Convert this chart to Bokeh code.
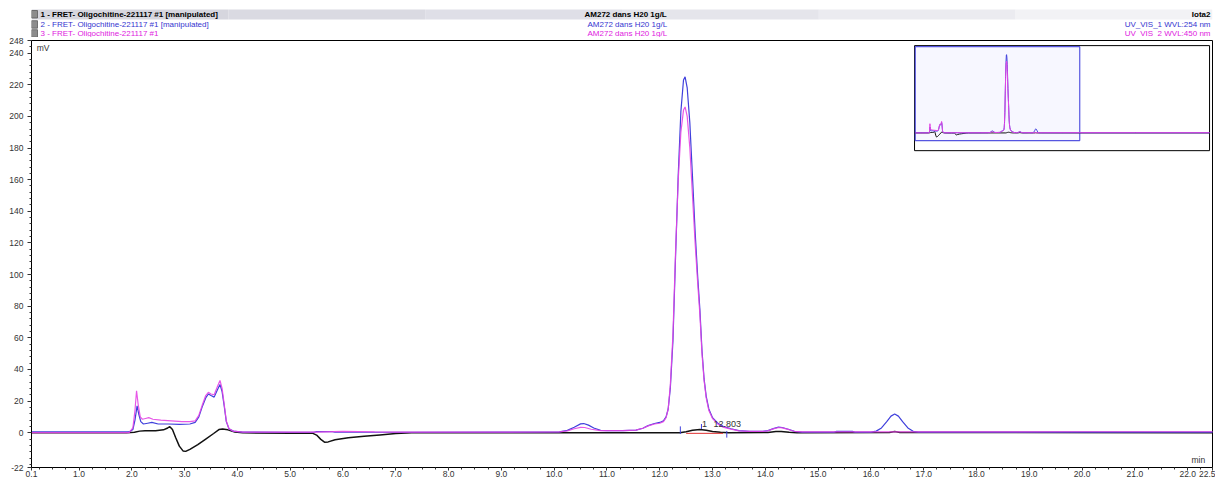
from bokeh.plotting import figure
from bokeh.models import Range1d, FixedTicker, PrintfTickFormatter, Label
from bokeh.layouts import column
from bokeh.embed import file_html
from bokeh.resources import INLINE

# ---------------- header texts ----------------
run_names = ["1 - FRET- Oligochitine-221117 #1 [manipulated]",
             "2 - FRET- Oligochitine-221117 #1 [manipulated]",
             "3 - FRET- Oligochitine-221117 #1"]
sample_names = ["AM272  dans H20 1g/L", "AM272 dans H20 1g/L", "AM272 dans H20 1g/L"]
channel_names = ["Iota2", "UV_VIS_1 WVL:254 nm", "UV_VIS_2 WVL:450 nm"]

# ---------------- axes ----------------
x_start, x_end = 0.1, 22.47
x_ticks = [0.1] + [float(i) for i in range(1, 23)] + [22.47]
x_minor = [i * 0.25 for i in range(1, 90)]
y_ticks = [-22, 0, 20, 40, 60, 80, 100, 120, 140, 160, 180, 200, 220, 240, 248]
y_minor = [v for v in range(-20, 248, 4)]

# ---------------- trace 2 (blue, UV_VIS_1) ----------------
t_blue = [0.1, 1.0, 1.95, 2.02, 2.06, 2.1, 2.13, 2.17, 2.22, 2.3,
          2.38, 2.5, 2.7, 2.9, 3.1, 3.2, 3.27, 3.33, 3.4, 3.45,
          3.5, 3.56, 3.62, 3.67, 3.71, 3.75, 3.79, 3.84, 3.92, 4.1,
          5.0, 5.45, 5.5, 5.8, 5.85, 7.0, 9.0, 10.1, 10.25, 10.38,
          10.5, 10.56, 10.65, 10.75, 10.88, 11.0, 11.3, 11.55, 11.68, 11.78,
          11.9, 12.0, 12.07, 12.12, 12.16, 12.2, 12.25, 12.3, 12.35, 12.4,
          12.45, 12.48, 12.52, 12.57, 12.62, 12.67, 12.72, 12.76, 12.8, 12.84,
          12.88, 12.93, 13.0, 13.1, 13.2, 13.35, 13.5, 13.7, 13.95, 14.05,
          14.15, 14.25, 14.32, 14.45, 14.55, 14.7, 15.3, 15.35, 15.65, 15.7,
          16.0, 16.1, 16.2, 16.3, 16.38, 16.45, 16.52, 16.6, 16.7, 16.8,
          16.9, 20.0, 30.0, 40.0]
v_blue = [0.5, 0.5, 0.5, 2, 8, 17, 12, 7, 5.5, 6,
          6.5, 5.5, 5.5, 5.3, 5.5, 6.5, 10, 16, 22, 24.5,
          23.5, 22.5, 27, 30.5, 26, 17, 7, 2.5, 1, 0.4,
          0.3, 0.3, 0.7, 0.7, 0.3, 0.3, 0.4, 0.5, 1.5, 3.5,
          5.6, 5.8, 4.8, 3, 1.5, 1.3, 1.3, 1.6, 2.8, 4.5,
          5.8, 6.5, 7.5, 10, 15, 28, 58, 112, 163, 203,
          223, 225, 218, 196, 162, 127, 98, 78, 52, 34,
          23, 15, 9.5, 6, 4, 2.5, 1.3, 0.8, 0.8, 1.3,
          2.6, 3.5, 3.3, 2, 0.9, 0.4, 0.4, 0.8, 0.8, 0.4,
          0.4, 1, 3, 7, 10.5, 11.8, 10.5, 7, 3, 0.9,
          0.4, 0.4, 0.4, 0.4]

# ---------------- trace 3 (magenta, UV_VIS_2) ----------------
t_mag = [0.1, 1.0, 1.95, 2.02, 2.06, 2.09, 2.12, 2.16, 2.2, 2.26,
         2.32, 2.4, 2.55, 2.75, 2.95, 3.1, 3.2, 3.27, 3.33, 3.4,
         3.45, 3.5, 3.56, 3.62, 3.67, 3.71, 3.75, 3.79, 3.84, 3.92,
         4.1, 5.5, 6.0, 6.6, 7.0, 9.0, 10.1, 10.25, 10.38, 10.5,
         10.58, 10.7, 10.88, 11.3, 11.55, 11.68, 11.78, 11.9, 12.0, 12.07,
         12.12, 12.16, 12.2, 12.25, 12.3, 12.35, 12.4, 12.45, 12.48, 12.52,
         12.57, 12.62, 12.67, 12.72, 12.76, 12.8, 12.84, 12.88, 12.93, 13.0,
         13.1, 13.2, 13.35, 13.5, 13.7, 13.95, 14.05, 14.15, 14.25, 14.32,
         14.45, 14.55, 14.7, 17.0, 20.0, 22.4, 30.0, 40.0]
v_mag = [0.1, 0.1, 0.1, 3, 14, 26.5, 18, 10, 8.5, 9,
         9.5, 8.5, 8, 7.5, 7, 7, 7.5, 11, 17, 23.5,
         25.5, 24.5, 24, 29, 33, 28, 18, 7.5, 2.5, 1,
         0.4, 0.4, 0.8, 0.5, 0.4, 0.4, 0.5, 1.2, 2.5, 3.4,
         3.3, 2.2, 1.3, 1.3, 1.6, 2.8, 4.3, 5.5, 6, 7,
         9.5, 15, 30, 62, 115, 160, 190, 204, 206, 200,
         180, 150, 120, 94, 75, 50, 33, 22, 14, 9,
         5.5, 3.5, 2.3, 1.2, 0.8, 0.8, 1.2, 2.4, 3.3, 3.1,
         1.9, 0.9, 0.5, 0.5, 0.6, 0.6, 0.6, 0.6]

# ---------------- trace 1 (black, manipulated) ----------------
t_black = [0.1, 1.9, 2.05, 2.15, 2.25, 2.45, 2.6, 2.68, 2.72, 2.77,
           2.83, 2.9, 2.97, 3.02, 3.1, 3.25, 3.4, 3.55, 3.65, 3.72,
           3.82, 3.95, 4.1, 5.0, 5.42, 5.5, 5.58, 5.65, 5.72, 5.85,
           6.1, 6.4, 6.7, 7.0, 7.3, 10.0, 12.38, 12.5, 12.62, 12.76,
           12.88, 13.0, 13.15, 13.3, 14.05, 14.2, 14.3, 14.45, 14.6, 16.35,
           16.45, 16.55, 22.4, 40.0]
v_black = [0, 0, 0.3, 1, 1.3, 1.2, 1.8, 3, 3.8, 2,
           -3, -8.5, -11.5, -11.8, -10.5, -7.5, -4, -0.5, 2, 2.3,
           1.8, 0.5, -0.1, -0.3, -0.3, -1.5, -4.2, -6, -5.8, -4.5,
           -3.2, -2.3, -1.4, -0.5, -0.1, 0, 0, 0.6, 1.5, 2,
           1.5, 0.8, 0.3, 0, 0.1, 0.7, 0.8, 0.3, 0, 0.1,
           0.8, 0.1, 0, 0]

# integration of peak 1 (black trace)
peak_number = "1"
peak_rt = 12.803
baseline_t = [12.5, 13.2]
baseline_v = [-0.4, -0.4]
marker_t = [12.39, 12.79, 13.27]
marker_lo = [-0.8, 2.4, -3.1]
marker_hi = [4.0, 5.5, 1.1]

BLUE = "#4040dc"
MAGENTA = "#e445e4"
BLACK = "#111111"
FONT = "Liberation Sans"

W = 1215
HEAD_H = 37
MAIN_H = 442
FRAME_L = 31
FRAME_R = 1212

# ================= header =================
head = figure(width=W, height=HEAD_H, x_range=Range1d(FRAME_L, FRAME_R), y_range=Range1d(HEAD_H, 0),
              output_backend="svg", toolbar_location=None,
              x_axis_type=None, y_axis_type=None, min_border=0,
              min_border_left=FRAME_L, min_border_right=W - FRAME_R)
head.outline_line_color = None
band_cols = ["#d6d6de", "#dadae2", "#dfdfe7", "#e5e5eb", "#ebebf0", "#f2f2f5"]
seg = (FRAME_R - FRAME_L) / len(band_cols)
for i, c in enumerate(band_cols):
    head.quad(left=[FRAME_L + i * seg], right=[FRAME_L + (i + 1) * seg], top=[9], bottom=[19],
              fill_color=c, line_color=None)

line_y = [14.0, 24.2, 33.2]
head_colors = ["#000000", "#3535d0", "#e020e0"]
for i in range(3):
    y = line_y[i]
    head.quad(left=[31], right=[37], top=[y - 4], bottom=[y + 3.5],
              fill_color="#8c8c8c", line_color="#5a5a5a", line_width=0.8)
    style = "bold" if i == 0 else "normal"
    head.add_layout(Label(x=40, y=y, text=run_names[i], text_font=FONT, text_font_size="8px",
                          text_font_style=style, text_color=head_colors[i],
                          text_baseline="middle", text_align="left"))
    head.add_layout(Label(x=584 if i == 0 else 587, y=y, text=sample_names[i], text_font=FONT,
                          text_font_size="8px", text_font_style=style,
                          text_color=head_colors[i], text_baseline="middle", text_align="left"))
    head.add_layout(Label(x=1210, y=y, text=channel_names[i], text_font=FONT,
                          text_font_size="8px", text_font_style=style,
                          text_color=head_colors[i], text_baseline="middle", text_align="right"))

# ================= main chromatogram =================
p = figure(width=W, height=MAIN_H, x_range=Range1d(x_start, x_end), y_range=Range1d(-22, 248),
           output_backend="svg", toolbar_location=None,
           min_border_left=FRAME_L, min_border_right=W - FRAME_R, min_border_top=3,
           min_border_bottom=8)
p.grid.visible = False
p.outline_line_color = "black"
p.outline_line_width = 1
p.background_fill_color = "white"

for ax in (p.xaxis[0], p.yaxis[0]):
    ax.axis_line_color = "black"
    ax.major_tick_line_color = "#333333"
    ax.minor_tick_line_color = "#333333"
    ax.major_tick_in = 0
    ax.major_tick_out = 4
    ax.minor_tick_in = 0
    ax.minor_tick_out = 2
    ax.major_label_text_font = FONT
    ax.major_label_text_font_size = "8.5px"
    ax.major_label_text_color = "#333333"

p.xaxis.ticker = FixedTicker(ticks=x_ticks, minor_ticks=x_minor)
p.xaxis.formatter = PrintfTickFormatter(format="%.1f")
p.xaxis.major_tick_out = 3
p.xaxis.major_label_standoff = 0
p.yaxis.ticker = FixedTicker(ticks=y_ticks, minor_ticks=y_minor)
p.yaxis.formatter = PrintfTickFormatter(format="%d")
p.yaxis.major_label_standoff = 4

p.line(t_black, v_black, line_color=BLACK, line_width=1.5)
p.line(t_blue, v_blue, line_color=BLUE, line_width=1.2)
p.line(t_mag, v_mag, line_color=MAGENTA, line_width=1.2, line_alpha=0.9)
p.line(baseline_t, baseline_v, line_color="#e03030", line_width=1)
p.segment(x0=marker_t, y0=marker_lo, x1=marker_t, y1=marker_hi, line_color=BLUE, line_width=1)

p.add_layout(Label(x=12.8, y=3.5, text=peak_number, text_font=FONT, text_font_size="9px",
                   text_color="#333333", text_baseline="bottom", text_align="left"))
p.add_layout(Label(x=13.02, y=3.5, text=f"{peak_rt:.3f}", text_font=FONT, text_font_size="9px",
                   text_color="#333333", text_baseline="bottom", text_align="left"))
p.add_layout(Label(x=0.2, y=243, text="mV", text_font=FONT, text_font_size="8.5px",
                   text_color="#333333", text_baseline="middle", text_align="left"))
p.add_layout(Label(x=22.33, y=-17.5, text="min", text_font=FONT, text_font_size="8.5px",
                   text_color="#333333", text_baseline="middle", text_align="right"))

# ---------------- overview inset ----------------
def framed_range(d0, d1, f0, f1):
    span = (d1 - d0) / (f1 - f0)
    start = d0 - f0 * span
    return Range1d(start, start + span)

inset_x = (0.0, 40.0)
inset_y = (-51.0, 251.0)
p.extra_x_ranges = {"inset": framed_range(inset_x[0], inset_x[1], 0.7477, 0.9975)}
p.extra_y_ranges = {"inset": framed_range(inset_y[0], inset_y[1], 0.742, 0.988)}
kw = dict(x_range_name="inset", y_range_name="inset")
p.quad(left=[inset_x[0]], right=[inset_x[1]], bottom=[inset_y[0]], top=[inset_y[1]],
       fill_color="white", line_color="black", line_width=1, **kw)
p.quad(left=[0.1], right=[22.4], bottom=[-22], top=[248],
       fill_color="#f7f7ff", line_color="#5656e0", line_width=1.2, **kw)
p.line(t_black, v_black, line_color=BLACK, line_width=1, **kw)
p.line(t_blue, v_blue, line_color=BLUE, line_width=1, **kw)
p.line(t_mag, v_mag, line_color=MAGENTA, line_width=1, **kw)

layout = column(head, p, spacing=0)
open("out.html", "w").write(file_html(layout, INLINE))
